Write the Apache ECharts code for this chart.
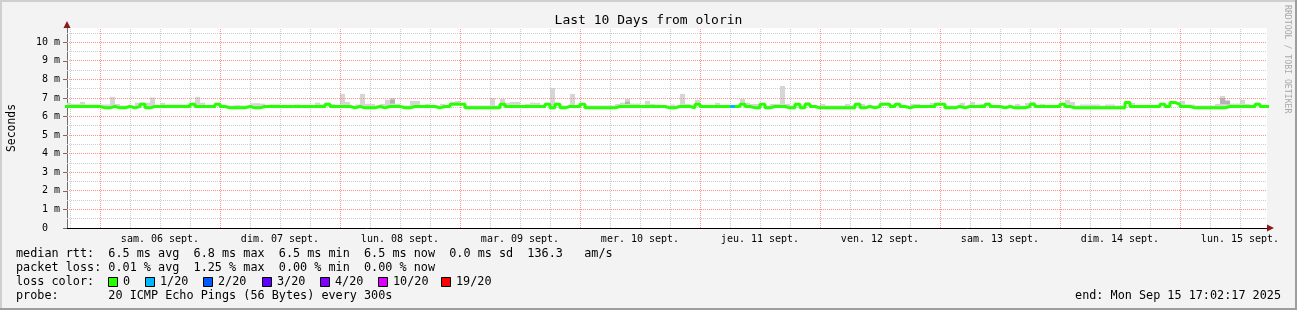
<!DOCTYPE html>
<html><head><meta charset="utf-8">
<script src="https://cdn.jsdelivr.net/npm/echarts@6/dist/echarts.min.js"></script>
<style>html,body{margin:0;padding:0;background:#f3f3f3}#c{width:1297px;height:310px}</style>
</head><body><div id="c"></div>
<script>
// first sample hour, relative to sam. 06 sept. 00:00 (one sample per hour)
const firstHour = -7;
// median RTT (ms), one value per hour
const median = [
 6.54,6.54,6.54,6.54,6.54,6.54,6.54,6.47,6.47,6.54,6.47,6.47,
 6.54,6.47,6.54,6.66,6.47,6.54,6.54,6.54,6.54,6.54,6.54,6.54,
 6.54,6.66,6.54,6.54,6.54,6.54,6.66,6.54,6.47,6.47,6.47,6.47,
 6.54,6.47,6.47,6.54,6.54,6.54,6.54,6.54,6.54,6.54,6.54,6.54,
 6.54,6.54,6.54,6.54,6.66,6.54,6.54,6.54,6.54,6.47,6.54,6.47,
 6.47,6.47,6.54,6.47,6.54,6.54,6.54,6.47,6.47,6.54,6.54,6.54,
 6.54,6.54,6.47,6.54,6.54,6.66,6.66,6.66,6.47,6.47,6.47,6.47,
 6.47,6.47,6.47,6.66,6.54,6.54,6.54,6.54,6.54,6.54,6.54,6.54,
 6.66,6.47,6.66,6.47,6.54,6.54,6.54,6.66,6.47,6.47,6.47,6.47,
 6.47,6.47,6.54,6.54,6.54,6.54,6.54,6.54,6.54,6.54,6.54,6.54,
 6.47,6.47,6.54,6.54,6.54,6.47,6.66,6.54,6.54,6.54,6.54,6.54,
 6.54,6.54,6.54,6.66,6.54,6.47,6.47,6.66,6.47,6.54,6.54,6.54,
 6.47,6.47,6.66,6.47,6.66,6.54,6.47,6.47,6.47,6.47,6.47,6.47,
 6.47,6.47,6.66,6.47,6.54,6.47,6.54,6.66,6.66,6.54,6.66,6.54,
 6.47,6.54,6.54,6.54,6.54,6.54,6.66,6.66,6.47,6.47,6.54,6.47,
 6.54,6.54,6.54,6.54,6.66,6.54,6.54,6.47,6.54,6.47,6.47,6.47,
 6.54,6.66,6.54,6.54,6.54,6.54,6.54,6.66,6.54,6.47,6.47,6.47,
 6.47,6.47,6.47,6.47,6.47,6.47,6.47,6.47,6.76,6.54,6.54,6.54,
 6.54,6.54,6.54,6.66,6.54,6.76,6.66,6.54,6.54,6.47,6.47,6.47,
 6.47,6.47,6.47,6.47,6.54,6.54,6.54,6.54,6.54,6.54,6.66,6.54,
 6.54
];
// top of the grey smoke (highest ping, ms), one value per hour
const smokeTop = [
 6.75,6.68,6.68,6.79,6.65,6.65,6.65,6.65,6.65,7.06,6.68,6.60,
 6.60,6.60,6.75,6.75,6.75,7.03,6.60,6.74,6.65,6.65,6.65,6.65,
 6.65,6.60,7.06,6.75,6.60,6.60,6.60,6.65,6.60,6.60,6.63,6.60,
 6.60,6.72,6.72,6.70,6.60,6.65,6.65,6.60,6.60,6.60,6.65,6.60,
 6.60,6.60,6.75,6.65,6.60,6.68,6.60,7.22,6.79,6.60,6.65,7.22,
 6.68,6.68,6.60,6.68,6.90,7.00,6.68,6.60,6.60,6.84,6.84,6.60,
 6.68,6.60,6.60,6.68,6.60,6.79,6.84,6.74,6.60,6.60,6.60,6.60,
 6.60,7.00,6.60,6.95,6.74,6.79,6.79,6.60,6.68,6.75,6.74,6.60,
 6.68,7.54,6.68,6.60,6.60,7.22,6.60,6.74,6.60,6.60,6.60,6.60,
 6.60,6.60,6.68,6.75,6.95,6.70,6.70,6.60,6.84,6.68,6.65,6.60,
 6.60,6.65,6.60,7.22,6.68,6.60,6.90,6.60,6.60,6.60,6.74,6.60,
 6.60,6.60,6.60,6.95,6.74,6.68,6.68,6.60,6.60,6.68,6.68,7.65,
 6.68,6.60,6.60,6.60,6.79,6.60,6.60,6.68,6.60,6.60,6.60,6.60,
 6.68,6.60,6.68,6.68,6.60,6.60,6.60,6.74,6.74,6.60,6.60,6.60,
 6.60,6.68,6.68,6.60,6.60,6.74,6.70,6.70,6.60,6.60,6.60,6.74,
 6.60,6.79,6.60,6.68,6.74,6.60,6.60,6.60,6.60,6.60,6.68,6.60,
 6.74,6.79,6.60,6.68,6.60,6.60,6.60,6.74,6.90,6.79,6.60,6.65,
 6.65,6.65,6.65,6.60,6.65,6.65,6.60,6.60,6.60,6.74,6.60,6.60,
 6.63,6.60,6.60,6.60,6.60,6.60,6.79,6.84,6.65,6.65,6.60,6.60,
 6.60,6.60,6.68,7.11,6.90,6.70,6.70,6.90,6.68,6.60,6.60,6.60,
 6.60
];
// denser (darker) smoke bands: [hour, low ms, high ms]
const darkSmoke = [[58, 6.70, 6.92], [105, 6.68, 6.80], [224, 6.68, 7.00], [225, 6.66, 6.84]];
// hours with packet loss: [hour, lost pings of 20]
const lossEvents = [[126, 1]];
const lossColors = ['#26ff00', '#00b8ff', '#0059ff', '#5e00ff', '#7e00ff', '#dd00ff', '#ff0000'];
const lossLabels = ['0', '1/20', '2/20', '3/20', '4/20', '10/20', '19/20'];
const lossThresholds = [0, 1, 2, 3, 4, 10, 19];
const dayLabels = ['sam. 06 sept.', 'dim. 07 sept.', 'lun. 08 sept.', 'mar. 09 sept.', 'mer. 10 sept.',
                   'jeu. 11 sept.', 'ven. 12 sept.', 'sam. 13 sept.', 'dim. 14 sept.', 'lun. 15 sept.'];
const dayLabelHours = [12, 36, 60, 84, 108, 132, 156, 180, 204, 228];
const yTickValues = [0, 1, 2, 3, 4, 5, 6, 7, 8, 9, 10];
const statsLines = [
  'median rtt:  6.5 ms avg  6.8 ms max  6.5 ms min  6.5 ms now  0.0 ms sd  136.3   am/s',
  'packet loss: 0.01 % avg  1.25 % max  0.00 % min  0.00 % now'
];
const lossTitle = 'loss color:';
const probeLine = 'probe:       20 ICMP Echo Pings (56 Bytes) every 300s';
const endLine = 'end: Mon Sep 15 17:02:17 2025';
const titleText = 'Last 10 Days from olorin';
const watermark = 'RRDTOOL / TOBI OETIKER';

// ---------- build ----------
const MONO = "'DejaVu Sans Mono', monospace";
const RED = '#ff8f8f', GRAY = '#cdcdcd';
const GRID_L = 67, GRID_T = 28, GRID_B = 82, GRID_R = 30, CH = 310;
const Y_MAX = 10.77, X_MIN = -6.6, X_MAX = 233.4;
const n = median.length;
const lastHour = firstHour + n;
const hourOf = i => firstHour + i;

const medData = median.map((v, i) => [hourOf(i), v]).concat([[lastHour, median[n - 1]]]);
const smokeBands = [];
smokeTop.forEach((v, i) => { if (v > median[i]) smokeBands.push([hourOf(i), median[i], v]); });
const darkBands = darkSmoke.map(d => [d[0], d[1], d[2]]);

function bandRenderer(color) {
  return function (params, api) {
    const h = api.value(0);
    const p0 = api.coord([h, api.value(2)]);
    const p1 = api.coord([h + 1, api.value(1)]);
    return {
      type: 'rect',
      shape: {x: p0[0], y: p0[1], width: p1[0] - p0[0], height: p1[1] - p0[1]},
      style: {fill: color}
    };
  };
}

function lossColor(k) {
  let c = lossColors[0];
  lossThresholds.forEach((t, j) => { if (k >= t) c = lossColors[j]; });
  return c;
}
const lossSeries = lossEvents.map(e => {
  const v = median[e[0] - firstHour];
  return {
    type: 'line', step: 'end', symbol: 'none', silent: true, z: 6,
    data: [[e[0], v], [e[0] + 1, v]],
    lineStyle: {color: lossColor(e[1]), width: 3}
  };
});

// grid lines (dotted, rrdtool style), snapped to pixel centres so they stay crisp
const plotH = CH - GRID_T - GRID_B, yBottom = CH - GRID_B;
const pxPerMs = plotH / Y_MAX;
const snapY = v => (yBottom - (Math.floor(yBottom - v * pxPerMs) + 0.5)) / pxPerMs;
const dot = c => ({color: c, type: [1, 1], width: 1});
const gridLines = [];
for (let k = 1; k <= 21; k += 2) gridLines.push({yAxis: snapY(k / 2), lineStyle: dot(GRAY)});
for (let h = -6; h <= 233; h += 6) if (h % 24 !== 0) gridLines.push({xAxis: h + 0.1, lineStyle: dot(GRAY)});
for (let k = 1; k <= 10; k++) gridLines.push({yAxis: snapY(k), lineStyle: dot(RED)});
for (let h = 0; h <= 233; h += 24) gridLines.push({xAxis: h + 0.1, lineStyle: dot(RED)});

const W = 1297;
const graphics = [];
graphics.push({type: 'rect', shape: {x: 0, y: 0, width: W, height: 2}, style: {fill: '#cfcfcf'}, z: 100});
graphics.push({type: 'rect', shape: {x: 0, y: 0, width: 2, height: CH}, style: {fill: '#cfcfcf'}, z: 100});
graphics.push({type: 'rect', shape: {x: 0, y: CH - 2, width: W, height: 2}, style: {fill: '#9e9e9e'}, z: 100});
graphics.push({type: 'rect', shape: {x: W - 2, y: 0, width: 2, height: CH}, style: {fill: '#9e9e9e'}, z: 100});
graphics.push({type: 'polygon', shape: {points: [[63.5, 28], [70.5, 28], [67, 21]]}, style: {fill: '#8b1a1a'}, z: 100});
graphics.push({type: 'polygon', shape: {points: [[1267, 224.5], [1267, 231.5], [1274, 228]]}, style: {fill: '#8b1a1a'}, z: 100});
const FS = 11.8, LH = 14, LX = 16, LY = 254;
const txt = (s, x, y) => ({
  type: 'text', x: x, y: y, z: 100,
  style: {text: s, font: FS + 'px ' + MONO, fill: '#000', textAlign: 'left', textVerticalAlign: 'middle'}
});
statsLines.forEach((s, i) => graphics.push(txt(s, LX, LY + i * LH)));
graphics.push(txt(lossTitle, LX, LY + 2 * LH));
const boxX = [108, 145, 203, 262, 320, 378, 441];
lossLabels.forEach((lab, i) => {
  graphics.push({type: 'rect', z: 100, shape: {x: boxX[i] + 0.5, y: LY + 2 * LH - 4.5, width: 9, height: 9},
                 style: {fill: lossColors[i], stroke: '#000', lineWidth: 1}});
  graphics.push(txt(lab, boxX[i] + 15, LY + 2 * LH));
});
graphics.push(txt(probeLine, LX, LY + 3 * LH));
const endT = txt(endLine, 1281, LY + 3 * LH);
endT.style.textAlign = 'right';
graphics.push(endT);
graphics.push({type: 'text', x: 1287, y: 5, rotation: -Math.PI / 2, z: 100,
  style: {text: watermark, font: '8.2px ' + MONO, fill: '#a8a8a8', textAlign: 'left', textVerticalAlign: 'middle'}});

const chart = echarts.init(document.getElementById('c'), null, {renderer: 'canvas'});
chart.setOption({
  animation: false,
  backgroundColor: '#f3f3f3',
  title: {text: titleText, left: 'center', top: 9,
          textStyle: {fontFamily: MONO, fontSize: 13, fontWeight: 'normal', color: '#000'}},
  grid: {left: GRID_L, right: GRID_R, top: GRID_T, bottom: GRID_B, show: true, backgroundColor: '#ffffff',
         borderWidth: 0, containLabel: false, outerBoundsMode: 'none'},
  xAxis: {
    type: 'value', min: X_MIN, max: X_MAX,
    axisLine: {show: true, onZero: false, lineStyle: {color: '#000', width: 1}},
    axisTick: {show: false},
    splitLine: {show: false},
    axisLabel: {customValues: dayLabelHours, margin: 6,
                formatter: v => dayLabels[dayLabelHours.indexOf(v)] || '',
                fontFamily: MONO, fontSize: 10, color: '#000'}
  },
  yAxis: {
    type: 'value', min: 0, max: Y_MAX, interval: 1,
    name: 'Seconds', nameLocation: 'middle', nameRotate: 90, nameGap: 49,
    nameTextStyle: {fontFamily: MONO, fontSize: 11.4, color: '#000'},
    axisLine: {show: true, onZero: false, lineStyle: {color: '#6e6e6e', width: 1}},
    axisTick: {show: true, customValues: yTickValues, length: 4, lineStyle: {color: '#6e6e6e'}},
    axisLabel: {customValues: yTickValues, margin: 7,
                formatter: v => v === 0 ? '0  ' : v + ' m',
                fontFamily: MONO, fontSize: 10, color: '#000'},
    splitLine: {show: false}
  },
  graphic: graphics,
  series: [
    {type: 'line', name: 'grid', data: [], silent: true, z: 1,
     markLine: {silent: true, symbol: 'none', label: {show: false}, data: gridLines, animation: false}},
    {type: 'custom', name: 'smoke', silent: true, z: 2, clip: true,
     data: smokeBands, renderItem: bandRenderer('#d6d6d6')},
    {type: 'custom', name: 'darkSmoke', silent: true, z: 3, clip: true,
     data: darkBands, renderItem: bandRenderer('#b3b3b3')},
    {type: 'line', name: 'median', step: 'end', symbol: 'none', silent: true, z: 5,
     data: medData, lineStyle: {color: lossColors[0], width: 3}}
  ].concat(lossSeries)
});
</script></body></html>
